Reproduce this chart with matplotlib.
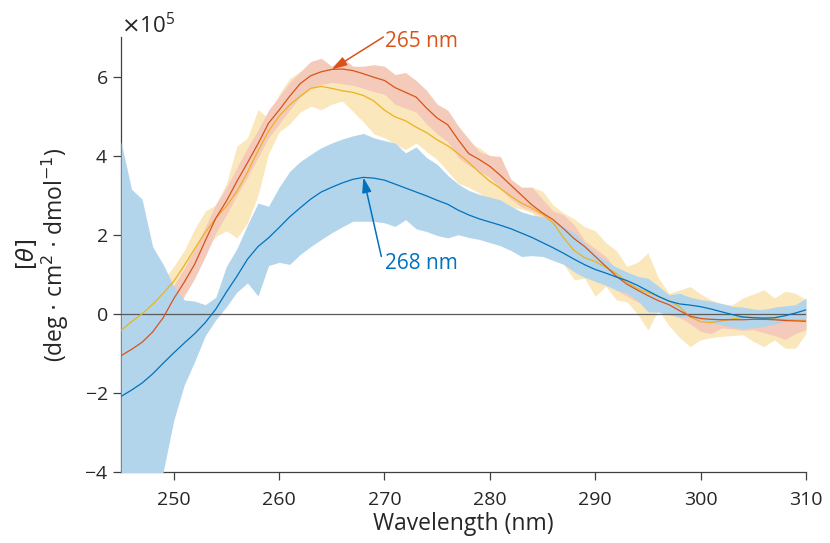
import numpy as np
import matplotlib
matplotlib.use('Agg')
import matplotlib.pyplot as plt
from matplotlib.ticker import ScalarFormatter

# Wavelength grid (nm)
wavelength = np.arange(245, 311)

# Values in units of 1e5 deg cm^2 dmol^-1
blue_mean = [-2.09, -1.93, -1.75, -1.52, -1.25, -0.99, -0.74, -0.50, -0.22, 0.12,
             0.55, 0.95, 1.38, 1.70, 1.92, 2.18, 2.45, 2.68, 2.90, 3.08,
             3.20, 3.31, 3.40, 3.45, 3.43, 3.38, 3.28, 3.18, 3.08, 2.98,
             2.87, 2.77, 2.62, 2.50, 2.40, 2.32, 2.24, 2.15, 2.04, 1.93,
             1.80, 1.67, 1.53, 1.38, 1.24, 1.12, 1.03, 0.93, 0.84, 0.72,
             0.58, 0.44, 0.32, 0.25, 0.22, 0.18, 0.12, 0.05, -0.02, -0.08,
             -0.10, -0.11, -0.10, -0.05, 0.02, 0.10]
blue_lo = [-6.0, -5.6, -5.2, -4.8, -4.0, -2.7, -1.8, -1.2, -0.55, -0.15,
           0.18, 0.55, 0.78, 0.45, 1.22, 1.30, 1.25, 1.50, 1.70, 1.88,
           2.05, 2.20, 2.34, 2.34, 2.34, 2.30, 2.21, 2.38, 2.15, 2.08,
           1.98, 1.92, 2.00, 1.93, 1.88, 1.80, 1.72, 1.60, 1.45, 1.47,
           1.45, 1.35, 1.25, 1.06, 0.92, 0.82, 0.72, 0.60, 0.53, 0.34,
           0.05, 0.04, -0.02, -0.08, -0.08, -0.14, -0.22, -0.28, -0.34, -0.38,
           -0.35, -0.32, -0.26, -0.20, -0.13, -0.11]
blue_hi = [4.35, 3.15, 2.90, 1.70, 1.25, 0.70, 0.35, 0.32, 0.23, 0.42,
           1.20, 1.65, 2.25, 2.80, 2.72, 3.20, 3.60, 3.85, 4.03, 4.20,
           4.32, 4.42, 4.50, 4.56, 4.45, 4.38, 4.32, 4.07, 4.22, 3.95,
           3.78, 3.50, 3.28, 3.12, 3.02, 2.95, 2.88, 2.72, 2.58, 2.50,
           2.45, 2.35, 2.20, 2.05, 1.78, 1.52, 1.35, 1.18, 1.06, 0.95,
           0.90, 0.70, 0.48, 0.52, 0.42, 0.36, 0.32, 0.26, 0.19, 0.17,
           0.12, 0.10, 0.17, 0.20, 0.23, 0.40]

red_mean = [-1.06, -0.90, -0.72, -0.46, -0.10, 0.38, 0.80, 1.26, 1.85, 2.42,
            2.85, 3.35, 3.82, 4.30, 4.82, 5.15, 5.50, 5.82, 6.02, 6.12,
            6.18, 6.19, 6.15, 6.07, 5.98, 5.90, 5.72, 5.60, 5.48, 5.20,
            4.95, 4.78, 4.40, 4.05, 3.90, 3.73, 3.50, 3.25, 3.00, 2.75,
            2.55, 2.38, 2.15, 1.90, 1.70, 1.45, 1.20, 0.95, 0.75, 0.60,
            0.46, 0.33, 0.23, 0.08, -0.06, -0.12, -0.14, -0.15, -0.15, -0.15,
            -0.14, -0.14, -0.15, -0.17, -0.18, -0.19]
red_lo = [-1.35, -1.20, -1.02, -0.78, -0.45, 0.02, 0.45, 0.90, 1.45, 2.05,
          2.50, 3.00, 3.45, 3.95, 4.45, 4.80, 5.15, 5.48, 5.70, 5.80,
          5.85, 5.82, 5.78, 5.70, 5.62, 5.55, 5.30, 5.20, 5.10, 4.80,
          4.55, 4.35, 3.95, 3.75, 3.60, 3.45, 3.15, 2.90, 2.70, 2.60,
          2.45, 2.05, 1.90, 1.65, 1.45, 1.22, 0.85, 0.60, 0.45, 0.30,
          0.22, 0.12, 0.00, -0.10, -0.25, -0.45, -0.50, -0.36, -0.38, -0.42,
          -0.40, -0.48, -0.55, -0.65, -0.50, -0.40]
red_hi = [-0.80, -0.62, -0.45, -0.18, 0.22, 0.72, 1.15, 1.65, 2.20, 2.78,
          3.20, 3.70, 4.20, 4.65, 5.15, 5.50, 5.85, 6.12, 6.38, 6.46,
          6.26, 6.48, 6.26, 6.26, 6.30, 6.26, 6.05, 6.10, 5.90, 5.65,
          5.30, 5.15, 4.75, 4.42, 4.10, 4.00, 3.98, 3.40, 3.20, 3.20,
          2.90, 2.60, 2.50, 2.25, 1.85, 1.65, 1.45, 1.10, 0.95, 0.80,
          0.65, 0.50, 0.38, 0.25, 0.10, 0.05, 0.02, 0.00, 0.02, 0.05,
          0.08, 0.12, 0.15, 0.20, 0.15, 0.05]

yellow_mean = [-0.42, -0.20, 0.00, 0.24, 0.52, 0.82, 1.22, 1.65, 2.06, 2.42,
               2.72, 3.10, 3.58, 4.12, 4.62, 5.00, 5.28, 5.50, 5.70, 5.75,
               5.70, 5.64, 5.60, 5.52, 5.38, 5.15, 4.98, 4.88, 4.72, 4.58,
               4.40, 4.25, 4.05, 3.83, 3.58, 3.35, 3.17, 2.97, 2.80, 2.67,
               2.52, 2.30, 1.92, 1.60, 1.42, 1.32, 1.18, 1.02, 0.80, 0.64,
               0.54, 0.43, 0.33, 0.18, -0.08, -0.20, -0.22, -0.18, -0.13, -0.09,
               -0.09, -0.11, -0.13, -0.15, -0.16, -0.16]
yellow_lo = [-0.70, -0.50, -0.30, -0.05, 0.25, 0.55, 0.95, 1.35, 1.65, 1.95,
             2.10, 1.92, 2.30, 3.00, 4.05, 4.60, 4.80, 5.10, 5.25, 5.16,
             5.30, 5.38, 5.12, 4.85, 4.55, 4.45, 4.30, 4.15, 4.32, 4.10,
             3.90, 3.60, 3.30, 3.20, 3.05, 2.90, 2.80, 2.70, 2.65, 2.55,
             2.30, 1.90, 1.25, 0.86, 0.90, 0.44, 0.70, 0.35, 0.30, 0.00,
             -0.41, 0.10, -0.30, -0.60, -0.83, -0.66, -0.60, -0.57, -0.55, -0.53,
             -0.70, -0.83, -0.66, -0.87, -0.87, -0.50]
yellow_hi = [-0.15, 0.10, 0.30, 0.55, 0.85, 1.20, 1.60, 2.15, 2.60, 2.75,
             3.30, 4.24, 4.45, 5.16, 4.95, 5.55, 5.95, 6.13, 6.18, 6.20,
             6.15, 6.10, 6.05, 6.00, 5.95, 5.85, 5.60, 5.50, 5.30, 5.15,
             5.00, 5.10, 4.70, 4.32, 4.20, 4.00, 3.75, 3.40, 3.20, 3.20,
             3.10, 2.75, 2.55, 2.40, 2.20, 2.10, 1.80, 1.60, 1.20, 1.30,
             1.54, 0.90, 0.52, 0.60, 0.69, 0.50, 0.35, 0.25, 0.23, 0.40,
             0.50, 0.61, 0.40, 0.57, 0.52, 0.35]

# Peak positions marked on the plot (nm)
red_peak = 265
blue_peak = 268

SCALE = 1e5

# MATLAB default colours and their light tints for the bands
c_blue, c_red, c_yellow = '#0072BD', '#D95319', '#EDB120'
f_blue, f_red, f_yellow = '#b3d5ec', '#f4cbba', '#fae8bc'
text_col = '#262626'

plt.rcParams['font.family'] = ['Open Sans', 'DejaVu Sans']
plt.rcParams['mathtext.fontset'] = 'dejavusans'

fig = plt.figure(figsize=(8.3, 5.43), dpi=100)
ax = fig.add_axes([0.1458, 0.1308, 0.9711 - 0.1458, 0.9319 - 0.1308])

x = wavelength
def arr(v):
    return np.array(v) * SCALE

# Shaded bands (opaque, yellow under red under blue)
ax.fill_between(x, arr(yellow_lo), arr(yellow_hi), color=f_yellow, lw=0, zorder=1)
ax.fill_between(x, arr(red_lo), arr(red_hi), color=f_red, lw=0, zorder=2)
ax.fill_between(x, arr(blue_lo), arr(blue_hi), color=f_blue, lw=0, zorder=3)

# Zero line
ax.axhline(0, color='#5a5a5a', lw=0.9, zorder=4)

# Mean curves
ax.plot(x, arr(yellow_mean), color=c_yellow, lw=0.9, zorder=5)
ax.plot(x, arr(red_mean), color=c_red, lw=0.9, zorder=6)
ax.plot(x, arr(blue_mean), color=c_blue, lw=0.9, zorder=7)

# Peak annotations
ri = list(x).index(red_peak)
bi = list(x).index(blue_peak)
arrow_style = '-|>,head_length=0.9,head_width=0.28'
ax.annotate('', xy=(red_peak, red_mean[ri] * SCALE), xytext=(269.9, 7.0 * SCALE),
            arrowprops=dict(arrowstyle=arrow_style, color=c_red, lw=1.1,
                            shrinkA=0, shrinkB=0),
            zorder=8, annotation_clip=False)
ax.text(270.05, 6.88 * SCALE, f'{red_peak} nm', color=c_red, fontsize=15,
        ha='left', va='center', zorder=8)
ax.annotate('', xy=(blue_peak, blue_mean[bi] * SCALE), xytext=(269.7, 1.45 * SCALE),
            arrowprops=dict(arrowstyle=arrow_style, color=c_blue, lw=1.1,
                            shrinkA=0, shrinkB=0),
            zorder=8)
ax.text(270.05, 1.28 * SCALE, f'{blue_peak} nm', color=c_blue, fontsize=15,
        ha='left', va='center', zorder=8)

# Axes
ax.set_xlim(245, 310)
ax.set_ylim(-4 * SCALE, 7 * SCALE)
ax.set_xticks([250, 260, 270, 280, 290, 300, 310])
ax.set_yticks(np.arange(-4, 7, 2) * SCALE)
fmt = ScalarFormatter(useMathText=True)
fmt.set_powerlimits((0, 0))
ax.yaxis.set_major_formatter(fmt)
ax.yaxis.get_offset_text().set_fontsize(16)
ax.yaxis.get_offset_text().set_color(text_col)

for s in ['top', 'right']:
    ax.spines[s].set_visible(False)
for s in ['left', 'bottom']:
    ax.spines[s].set_color('#404040')
    ax.spines[s].set_linewidth(0.9)
ax.tick_params(direction='out', length=6, width=0.9, color='#404040',
               labelsize=14, labelcolor=text_col)
ax.tick_params(axis='x', pad=8)

ax.set_xlabel('Wavelength (nm)', fontsize=16.5, color=text_col, labelpad=2)
ax.set_ylabel('$[\\theta]$\n(deg $\\cdot$ cm$^2$ $\\cdot$ dmol$^{-1}$)',
              fontsize=16.5, color=text_col, linespacing=1.0, labelpad=9)

fig.savefig('out.png', dpi=100)
